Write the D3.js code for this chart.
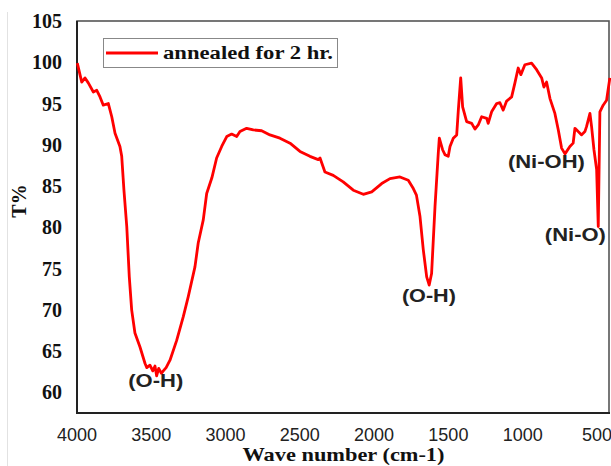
<!DOCTYPE html>
<html lang="en">
<head>
    <meta charset="UTF-8">
    <title>FTIR spectrum</title>
    <script src="https://d3js.org/d3.v7.min.js"></script>
    <style>
        body {
            margin: 0;
            background: #fff;
        }
        svg {
            display: block;
        }
        .tick-y {
            font-family: "Liberation Serif", "Times New Roman", serif;
            font-weight: bold;
            font-size: 20px;
            fill: #111;
        }
        .tick-x {
            font-family: "Liberation Sans", Arial, sans-serif;
            font-size: 18px;
            fill: #222;
        }
        .title {
            font-family: "Liberation Serif", "Times New Roman", serif;
            font-weight: bold;
            font-size: 20px;
            fill: #111;
        }
        .note {
            font-family: "Liberation Sans", Arial, sans-serif;
            font-weight: bold;
            font-size: 18px;
            fill: #222;
        }
    </style>
</head>
<body>
    <script>
        // wave number (cm-1) and transmittance (%)
        const waveNumber = [
            3998, 3968, 3946, 3924, 3890, 3867, 3845, 3823, 3789, 3766,
            3744, 3711, 3699, 3684, 3665, 3648, 3632, 3610, 3576, 3542,
            3530, 3509, 3490, 3475, 3464, 3450, 3432, 3419, 3400, 3374,
            3329, 3284, 3251, 3206, 3184, 3150, 3127, 3092, 3060, 3026,
            2992, 2959, 2925, 2903, 2858, 2813, 2757, 2701, 2634, 2566,
            2499, 2432, 2376, 2364, 2331, 2275, 2208, 2140, 2073, 2016,
            1949, 1893, 1826, 1770, 1736, 1715, 1691, 1669, 1646, 1629,
            1613, 1590, 1568, 1561, 1539, 1523, 1501, 1489, 1467, 1444,
            1433, 1417, 1404, 1377, 1343, 1321, 1299, 1276, 1242, 1232,
            1209, 1175, 1153, 1131, 1108, 1074, 1052, 1030, 1012, 985,
            940, 906, 872, 857, 839, 816, 783, 760, 738, 715,
            682, 660, 648, 626, 603, 581, 570, 547, 536, 520,
            502, 491, 480, 458, 435, 413
        ];
        const transmittance = [
            99.9, 97.6, 98.1, 97.5, 96.4, 96.6, 95.8, 94.8, 95.0, 93.4,
            91.4, 89.8, 88.6, 84.5, 80.1, 74.0, 70.0, 67.2, 65.5, 63.5,
            63.0, 63.3, 62.6, 63.2, 62.0, 62.9, 62.3, 62.6, 63.0, 63.9,
            66.3, 69.2, 71.6, 75.2, 78.1, 80.9, 84.1, 86.0, 88.4, 89.8,
            91.0, 91.3, 91.0, 91.6, 92.0, 91.8, 91.7, 91.2, 90.8, 90.2,
            89.2, 88.6, 88.2, 88.4, 86.7, 86.3, 85.5, 84.5, 84.0, 84.3,
            85.3, 85.9, 86.1, 85.7, 84.7, 83.9, 81.3, 77.3, 74.0, 73.0,
            74.4, 82.5, 89.0, 90.8, 89.4, 88.8, 88.6, 89.8, 90.8, 91.2,
            94.2, 98.1, 94.6, 92.8, 92.6, 91.9, 92.4, 93.4, 93.2, 92.6,
            94.0, 95.0, 95.1, 94.2, 95.3, 95.8, 97.5, 99.3, 98.5, 99.7,
            99.9, 99.1, 98.1, 97.0, 97.6, 95.6, 93.8, 91.8, 89.6, 88.9,
            89.8, 90.2, 92.0, 91.6, 91.2, 91.6, 92.2, 93.8, 92.2, 89.4,
            87.0, 80.1, 94.0, 94.8, 95.4, 98.1
        ];

        const xTicks = [4000, 3500, 3000, 2500, 2000, 1500, 1000, 500];
        const yTicks = [60, 65, 70, 75, 80, 85, 90, 95, 100, 105];

        const seriesName = "annealed for 2 hr.";
        const notes = [
            { text: "(O-H)", wn: 3470, t: 60.7, len: 55 },
            { text: "(O-H)", wn: 1631, t: 70.9, len: 54 },
            { text: "(Ni-OH)", wn: 840, t: 87.2, len: 77 },
            { text: "(Ni-O)", wn: 645, t: 78.4, len: 61 }
        ];

        const width = 611, height = 466;
        const plot = { left: 77, right: 610, top: 21, bottom: 413 };

        const svg = d3.select("body").append("svg")
            .attr("width", width)
            .attr("height", height);

        const x = d3.scaleLinear().domain([4000, 412]).range([plot.left, plot.right]);
        const y = d3.scaleLinear().domain([57.5, 105]).range([plot.bottom, plot.top]);

        // faint page edge on the left
        svg.append("line")
            .attr("x1", 7.5).attr("x2", 7.5)
            .attr("y1", 12).attr("y2", height)
            .attr("stroke", "#e2e2e2");

        // frame
        svg.append("rect")
            .attr("x", plot.left).attr("y", plot.top)
            .attr("width", plot.right - plot.left - 1)
            .attr("height", plot.bottom - plot.top)
            .attr("fill", "none")
            .attr("stroke", "#555")
            .attr("stroke-width", 1.6);
        svg.append("path")
            .attr("d", `M${plot.left},${plot.top}V${plot.bottom}H${plot.right}`)
            .attr("fill", "none")
            .attr("stroke", "#222")
            .attr("stroke-width", 2);

        // tick labels
        svg.selectAll(".tick-y")
            .data(yTicks)
            .enter().append("text")
            .attr("class", "tick-y")
            .attr("x", 62)
            .attr("y", d => y(d))
            .attr("dy", "0.35em")
            .attr("text-anchor", "end")
            .text(d => d);

        svg.selectAll(".tick-x")
            .data(xTicks)
            .enter().append("text")
            .attr("class", "tick-x")
            .attr("x", d => x(d))
            .attr("y", 441)
            .attr("text-anchor", "middle")
            .text(d => d);

        // axis titles
        svg.append("text")
            .attr("class", "title")
            .style("font-size", "19px")
            .attr("x", (plot.left + plot.right) / 2)
            .attr("y", 461)
            .attr("text-anchor", "middle")
            .attr("textLength", 202)
            .attr("lengthAdjust", "spacingAndGlyphs")
            .text("Wave number (cm-1)");

        svg.append("text")
            .attr("class", "title")
            .attr("transform", "translate(26,201) rotate(-90)")
            .attr("text-anchor", "middle")
            .text("T%");

        // spectrum
        const points = waveNumber.map((w, i) => [w, transmittance[i]]);
        const line = d3.line()
            .x(d => x(d[0]))
            .y(d => y(d[1]));

        svg.append("path")
            .datum(points)
            .attr("d", line)
            .attr("fill", "none")
            .attr("stroke", "#ff0000")
            .attr("stroke-width", 2.8)
            .attr("stroke-linejoin", "round");

        // band labels
        svg.selectAll(".note")
            .data(notes)
            .enter().append("text")
            .attr("class", "note")
            .attr("x", d => x(d.wn))
            .attr("y", d => y(d.t))
            .attr("text-anchor", "middle")
            .attr("textLength", d => d.len)
            .attr("lengthAdjust", "spacingAndGlyphs")
            .text(d => d.text);

        // legend
        const legend = svg.append("g").attr("transform", "translate(103,38)");
        legend.append("rect")
            .attr("x", 0.5).attr("y", 0.5)
            .attr("width", 234).attr("height", 29)
            .attr("fill", "#fff")
            .attr("stroke", "#888");
        legend.append("line")
            .attr("x1", 3).attr("x2", 55)
            .attr("y1", 15).attr("y2", 15)
            .attr("stroke", "#ff0000")
            .attr("stroke-width", 2.8);
        legend.append("text")
            .attr("class", "title")
            .style("font-size", "18px")
            .attr("x", 60)
            .attr("y", 21)
            .attr("textLength", 170)
            .attr("lengthAdjust", "spacingAndGlyphs")
            .text(seriesName);
    </script>
</body>
</html>
